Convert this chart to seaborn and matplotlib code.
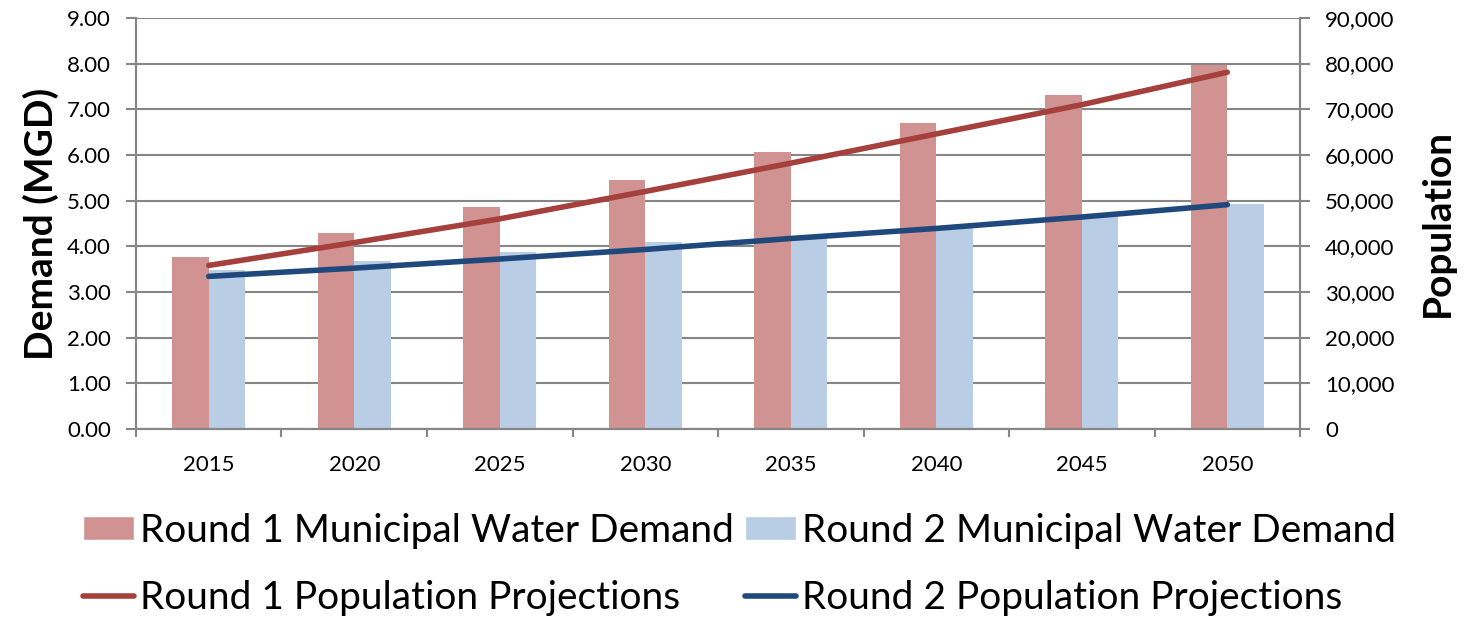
import numpy as np
import pandas as pd
import matplotlib
matplotlib.use("Agg")
import matplotlib.pyplot as plt
import seaborn as sns
from matplotlib.patches import Patch
from matplotlib.lines import Line2D
from matplotlib.ticker import FixedLocator, FuncFormatter

# data
years = ["2015", "2020", "2025", "2030", "2035", "2040", "2045", "2050"]
demand_r1 = [3.77, 4.29, 4.85, 5.45, 6.06, 6.69, 7.31, 7.97]
demand_r2 = [3.48, 3.68, 3.87, 4.09, 4.21, 4.43, 4.69, 4.92]
pop_r1 = [35800, 40800, 46000, 52000, 58200, 64600, 71000, 78100]
pop_r2 = [33400, 35200, 37200, 39300, 41700, 43900, 46400, 49100]

bar_names = ["Round 1 Municipal Water Demand", "Round 2 Municipal Water Demand"]
line_names = ["Round 1 Population Projections", "Round 2 Population Projections"]

bar_colors = ["#D19392", "#B9CDE5"]
line_colors = ["#A5403D", "#1F497D"]
grey = "#868686"

sns.set_theme(style="white")
plt.rcParams["font.family"] = ["Lato", "DejaVu Sans"]
plt.rcParams["text.color"] = "black"
plt.rcParams["axes.labelcolor"] = "black"
plt.rcParams["xtick.color"] = "black"
plt.rcParams["ytick.color"] = "black"

df = pd.DataFrame({
    "year": years * 2,
    "demand": demand_r1 + demand_r2,
    "series": [bar_names[0]] * len(years) + [bar_names[1]] * len(years),
})

fig = plt.figure(figsize=(14.67, 6.18), dpi=100)
ax = fig.add_axes([0.0927, 0.306, 0.7935, 0.665])

sns.barplot(data=df, x="year", y="demand", hue="series", hue_order=bar_names,
            palette=bar_colors, width=0.5, gap=0, saturation=1, ax=ax,
            legend=False, linewidth=0, edgecolor="none", zorder=2)

ax.set_ylim(0, 9)
ax.set_xlim(-0.5, len(years) - 0.5)
ax.set_yticks(np.arange(0, 10, 1))
ax.yaxis.set_major_formatter(FuncFormatter(lambda v, p: f"{v:.2f}"))
ax.yaxis.grid(True, color=grey, linewidth=1.5, zorder=0)
ax.set_axisbelow(True)

# tick marks at category boundaries, labels at centres
ax.xaxis.set_major_locator(FixedLocator(np.arange(-0.5, len(years), 1)))
ax.xaxis.set_major_formatter(FuncFormatter(lambda v, p: ""))
ax.set_xticks(np.arange(len(years)), labels=years, minor=True)
ax.tick_params(axis="x", which="major", direction="out", length=6, width=1.5, color=grey, bottom=True)
ax.tick_params(axis="x", which="minor", length=0, labelsize=16, pad=19)
ax.tick_params(axis="y", direction="out", length=7, width=1.5, color=grey, left=True, labelsize=16, pad=11)
ax.set_xlabel("")
ax.set_ylabel("Demand (MGD)", fontsize=28, fontweight="bold", labelpad=6)

for side in ["left", "bottom", "right"]:
    ax.spines[side].set_color(grey)
    ax.spines[side].set_linewidth(1.5)
ax.spines["top"].set_visible(False)

ax2 = ax.twinx()
pos = np.arange(len(years))
sns.lineplot(x=pos, y=pop_r1, color=line_colors[0], linewidth=4, ax=ax2,
             solid_capstyle="round")
sns.lineplot(x=pos, y=pop_r2, color=line_colors[1], linewidth=4, ax=ax2,
             solid_capstyle="round")
ax2.set_ylim(0, 90000)
ax2.set_yticks(np.arange(0, 90001, 10000))
ax2.yaxis.set_major_formatter(FuncFormatter(lambda v, p: f"{int(v):,}"))
ax2.tick_params(axis="y", direction="out", length=7, width=1.5, color=grey, right=True, labelsize=16, pad=11)
ax2.set_ylabel("Population", fontsize=28, fontweight="bold", labelpad=18)
for side in ["left", "bottom", "right"]:
    ax2.spines[side].set_color(grey)
    ax2.spines[side].set_linewidth(1.5)
ax2.spines["top"].set_visible(False)
ax2.grid(False)

handles = [
    Patch(facecolor=bar_colors[0], label=bar_names[0]),
    Line2D([0], [0], color=line_colors[0], linewidth=4, label=line_names[0]),
    Patch(facecolor=bar_colors[1], label=bar_names[1]),
    Line2D([0], [0], color=line_colors[1], linewidth=4, label=line_names[1]),
]
fig.legend(handles=handles, ncol=2, loc="center", bbox_to_anchor=(0.504, 0.087),
           frameon=False, fontsize=28, handlelength=1.3, handleheight=0.6,
           handletextpad=0.15, columnspacing=0.3, labelspacing=0.8)

fig.savefig("out.png", dpi=100)
